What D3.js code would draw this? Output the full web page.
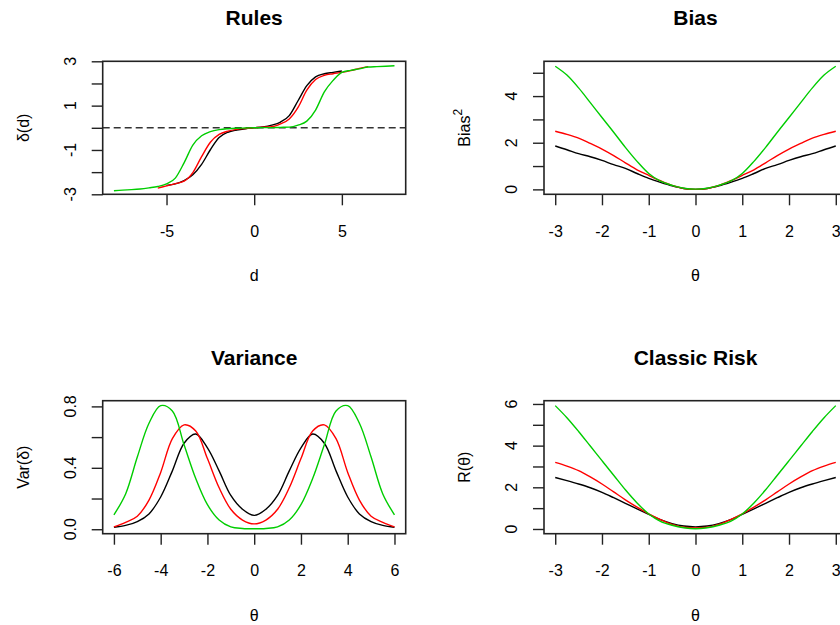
<!DOCTYPE html>
<html><head><meta charset="utf-8">
<script src="https://cdn.jsdelivr.net/npm/d3@7"></script>
<style>body{margin:0;background:#fff}svg{display:block}text{font-family:"Liberation Sans",Arial,sans-serif;fill:#000}</style>
</head><body><svg id="c" width="840" height="625"></svg>
<script>
// ---------- data ----------
const rulesD = [-8,-7.5,-7,-6.5,-6,-5.5,-5,-4.5,-4,-3.5,-3,-2.5,-2,-1.5,-1,-0.5,0,0.5,1,1.5,2,2.5,3,3.5,4,4.5,5,5.5,6,6.5,7,7.5,8];
const rulesBlack = [null,null,null,null,null,null,-2.6,-2.53,-2.38,-2.12,-1.65,-0.99,-0.44,-0.2,-0.1,-0.04,0,0.04,0.12,0.26,0.55,1.22,1.9,2.3,2.44,2.5,2.56,null,null,null,null,null,null];
const rulesRed = [null,null,null,null,null,-2.72,-2.62,-2.52,-2.41,-2.02,-1.3,-0.65,-0.3,-0.15,-0.07,-0.03,0,0.03,0.05,0.18,0.4,0.92,1.7,2.18,2.37,2.44,2.5,2.58,2.68,2.76,null,null,null];
const rulesGreen = [-2.84,-2.81,-2.79,-2.76,-2.71,-2.65,-2.53,-2.27,-1.58,-0.78,-0.36,-0.17,-0.08,-0.04,-0.02,-0.01,0,0.01,0.01,0.02,0.03,0.12,0.3,0.8,1.62,2.14,2.5,2.59,2.66,2.74,2.76,2.78,2.8];

const theta = [-3,-2.75,-2.5,-2.25,-2,-1.75,-1.5,-1.25,-1,-0.75,-0.5,-0.25,0,0.25,0.5,0.75,1,1.25,1.5,1.75,2,2.25,2.5,2.75,3];
const biasBlack = [1.86,1.7,1.53,1.4,1.24,1.06,0.9,0.68,0.47,0.3,0.15,0.04,0,0.04,0.15,0.3,0.47,0.68,0.9,1.06,1.24,1.4,1.53,1.7,1.86];
const biasRed = [2.49,2.36,2.2,1.97,1.73,1.45,1.14,0.84,0.6,0.37,0.17,0.04,0,0.04,0.17,0.37,0.6,0.84,1.14,1.45,1.73,1.97,2.2,2.36,2.49];
const biasGreen = [5.28,4.9,4.35,3.72,3.08,2.45,1.8,1.2,0.68,0.35,0.17,0.05,0.01,0.05,0.17,0.35,0.68,1.2,1.8,2.45,3.08,3.72,4.35,4.9,5.28];

const thetaVar = [-6,-5.5,-5,-4.5,-4,-3.5,-3,-2.5,-2,-1.5,-1,-0.5,0,0.5,1,1.5,2,2.5,3,3.5,4,4.5,5,5.5,6];
const varBlack = [0.013,0.025,0.05,0.1,0.21,0.38,0.56,0.62,0.53,0.38,0.22,0.13,0.09,0.13,0.22,0.38,0.53,0.62,0.56,0.38,0.21,0.1,0.05,0.025,0.013];
const varRed = [0.015,0.045,0.085,0.19,0.37,0.59,0.68,0.64,0.46,0.27,0.13,0.06,0.035,0.06,0.13,0.27,0.46,0.64,0.68,0.59,0.37,0.19,0.085,0.045,0.015];
const varGreen = [0.094,0.23,0.47,0.69,0.805,0.77,0.55,0.33,0.16,0.06,0.015,0.005,0.003,0.005,0.015,0.06,0.16,0.33,0.55,0.77,0.805,0.69,0.47,0.23,0.094];

const riskBlack = [2.47,2.32,2.16,1.98,1.76,1.5,1.23,0.96,0.7,0.45,0.26,0.14,0.1,0.14,0.26,0.45,0.7,0.96,1.23,1.5,1.76,1.98,2.16,2.32,2.47];
const riskRed = [3.2,3.02,2.8,2.5,2.16,1.78,1.4,1.05,0.73,0.45,0.22,0.08,0.05,0.08,0.22,0.45,0.73,1.05,1.4,1.78,2.16,2.5,2.8,3.02,3.2];
const riskGreen = [5.92,5.34,4.68,3.98,3.28,2.58,1.88,1.25,0.72,0.37,0.18,0.06,0.01,0.06,0.18,0.37,0.72,1.25,1.88,2.58,3.28,3.98,4.68,5.34,5.92];

const seriesColors = ["#000000","#FF0000","#00CD00"];

// ---------- layout ----------
const svg = d3.select("#c");
const FONT = 16, TITLE = 21;
const BOX_W = 303, BOX_H = 133;
function rpad(ext){const r=ext[1]-ext[0];return [ext[0]-0.04*r, ext[1]+0.04*r];}

function panel(opt){
  const left = 102.7 + opt.col*441.3, top = 61.3 + opt.row*339.4;
  const x = d3.scaleLinear().domain(rpad(d3.extent(opt.x))).range([left,left+BOX_W]);
  const allY = opt.series.flat().filter(v=>v!=null);
  const yd = opt.ylim ? opt.ylim : rpad(d3.extent(allY));
  const y = d3.scaleLinear().domain(yd).range([top+BOX_H, top]);
  const g = svg.append("g");
  const clipId = "clip"+opt.col+opt.row;
  g.append("clipPath").attr("id",clipId).append("rect").attr("x",left).attr("y",top).attr("width",BOX_W).attr("height",BOX_H);
  // reference line
  if (opt.hline!=null){
    g.append("line").attr("x1",left).attr("x2",left+BOX_W).attr("y1",y(opt.hline)).attr("y2",y(opt.hline))
     .attr("stroke","#333").attr("stroke-width",1.5).attr("stroke-dasharray","7,4");
  }
  // curves
  const lg = g.append("g").attr("clip-path","url(#"+clipId+")");
  opt.series.forEach((s,i)=>{
    const pts = opt.x.map((xv,j)=>({x:xv,y:s[j]}));
    const line = d3.line().defined(d=>d.y!=null).x(d=>x(d.x)).y(d=>y(d.y)).curve(opt.curve||d3.curveMonotoneX);
    lg.append("path").attr("d",line(pts)).attr("fill","none").attr("stroke",seriesColors[i]).attr("stroke-width",1.4);
  });
  // box
  g.append("rect").attr("x",left).attr("y",top).attr("width",BOX_W).attr("height",BOX_H)
   .attr("fill","none").attr("stroke","#222").attr("stroke-width",1.6);
  // x axis
  const xa = g.append("g").attr("transform","translate(0,"+(top+BOX_H)+")")
    .call(d3.axisBottom(x).tickValues(opt.xticks).tickSize(11).tickPadding(20).tickFormat(d=>String(d).replace("-","-")));
  xa.select(".domain").remove();
  xa.selectAll(".tick line").attr("stroke","#222").attr("stroke-width",1.4);
  xa.selectAll(".tick text").attr("font-size",FONT).attr("font-family","Liberation Sans, Arial, sans-serif").attr("fill","#000");
  // y axis
  const ya = g.append("g").attr("transform","translate("+left+",0)")
    .call(d3.axisLeft(y).tickValues(opt.yticks).tickSize(11).tickFormat(""));
  ya.select(".domain").remove();
  ya.selectAll(".tick line").attr("stroke","#222").attr("stroke-width",1.4);
  opt.ylabels.forEach(v=>{
    g.append("text").attr("transform","translate("+(left-27)+","+y(v)+") rotate(-90)")
     .attr("text-anchor","middle").attr("font-size",FONT).text(opt.yfmt?opt.yfmt(v):String(v));
  });
  // title
  g.append("text").attr("x",left+BOX_W/2).attr("y",top-36).attr("text-anchor","middle")
   .attr("font-size",TITLE).attr("font-weight","bold").text(opt.title);
  // x label
  g.append("text").attr("x",left+BOX_W/2).attr("y",top+BOX_H+87).attr("text-anchor","middle")
   .attr("font-size",FONT).text(opt.xlab);
  // y label
  const yl = g.append("text").attr("transform","translate("+(left-74)+","+(top+BOX_H/2)+") rotate(-90)")
   .attr("text-anchor","middle").attr("font-size",FONT);
  yl.append("tspan").text(opt.ylab);
  if (opt.ysup){ yl.append("tspan").attr("dy",-8).attr("font-size",12).text(opt.ysup); }
}

panel({col:0,row:0,title:"Rules",xlab:"d",ylab:"δ(d)",x:rulesD,series:[rulesBlack,rulesRed,rulesGreen],
  ylim:[-3,3],hline:0,xticks:[-5,0,5],yticks:[-3,-2,-1,0,1,2,3],ylabels:[-3,-1,1,3]});
panel({col:1,row:0,title:"Bias",xlab:"θ",ylab:"Bias",ysup:"2",x:theta,series:[biasBlack,biasRed,biasGreen],
  xticks:[-3,-2,-1,0,1,2,3],yticks:[0,1,2,3,4,5],ylabels:[0,2,4]});
panel({col:0,row:1,title:"Variance",xlab:"θ",ylab:"Var(δ)",x:thetaVar,series:[varBlack,varRed,varGreen],curve:d3.curveCatmullRom,
  xticks:[-6,-4,-2,0,2,4,6],yticks:[0,0.2,0.4,0.6,0.8],ylabels:[0,0.4,0.8],yfmt:d3.format(".1f")});
panel({col:1,row:1,title:"Classic Risk",xlab:"θ",ylab:"R(θ)",x:theta,series:[riskBlack,riskRed,riskGreen],
  xticks:[-3,-2,-1,0,1,2,3],yticks:[0,1,2,3,4,5,6],ylabels:[0,2,4,6]});
</script></body></html>
